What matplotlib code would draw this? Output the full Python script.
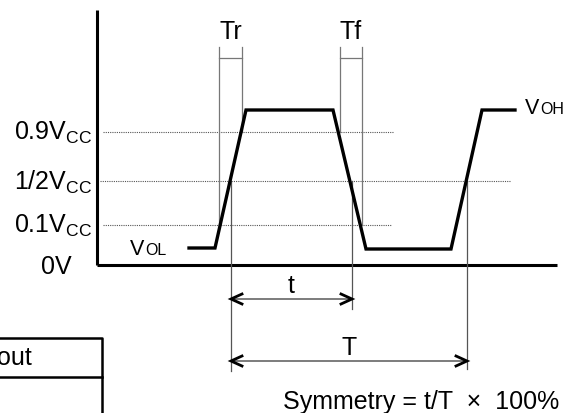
import matplotlib
matplotlib.use('Agg')
import matplotlib.pyplot as plt

plt.rcParams['font.family'] = ['Liberation Sans', 'DejaVu Sans']

# waveform corners (pixel coords of the 571x414 drawing)
wave_x = [189, 215, 246, 333, 366, 451, 482, 515]
wave_y = [249, 249, 111, 111, 250, 250, 111, 111]

# reference levels: label, y, x-start, x-end
level_names = ['0.9', '1/2', '0.1']
level_y = [133, 182, 226]
level_x0 = [103, 100, 103]
level_x1 = [393, 511, 391]

# Tr / Tf markers: left x, right x, bottom of left, bottom of right
edge_names = ['Tr', 'Tf']
edge_x = [(219, 242), (340, 362)]
edge_bottom = [(226, 133), (133, 226)]

# period markers
t_x = (231, 352)
T_x = (231, 467)

fig = plt.figure(figsize=(5.71, 4.14), dpi=100)
ax = fig.add_axes([0, 0, 1, 1])
ax.set_xlim(0, 571)
ax.set_ylim(414, 0)
ax.axis('off')

# axes
ax.plot([96.5, 96.5], [11, 266], color='black', lw=2.2, solid_capstyle='butt')
ax.plot([96.5, 557], [266, 266], color='black', lw=2.2, solid_capstyle='butt')

# dotted levels
for y, x0, x1 in zip(level_y, level_x0, level_x1):
    ax.plot([x0, x1], [y, y], color='#555555', lw=0.8, ls=(0, (1, 1)))

# level labels
for name, y in zip(level_names, level_y):
    ax.text(92, y, name + 'V$_{\\mathregular{CC}}$', ha='right', va='center', fontsize=18)
ax.text(56, 267, '0V', ha='center', va='center', fontsize=18)

# Tr / Tf brackets
for name, (xl, xr), (bl, br) in zip(edge_names, edge_x, edge_bottom):
    ax.plot([xl, xl], [48, bl], color='#777777', lw=0.9)
    ax.plot([xr, xr], [48, br], color='#777777', lw=0.9)
    ax.plot([xl, xr], [59, 59], color='#777777', lw=0.9)
    ax.text((xl + xr) / 2, 32, name, ha='center', va='center', fontsize=18)

# period verticals
ax.plot([t_x[0], t_x[0]], [182, 372], color='#555555', lw=0.9)
ax.plot([t_x[1], t_x[1]], [182, 310], color='#555555', lw=0.9)
ax.plot([T_x[1], T_x[1]], [182, 370], color='#555555', lw=0.9)

def dim_arrow(x0, x1, y, label, ly):
    ax.plot([x0, x1], [y, y], color='#666666', lw=1.2)
    for tip, d in ((x0, 1), (x1, -1)):
        ax.plot([tip + d * 11, tip, tip + d * 11], [y - 5, y, y + 5],
                color='black', lw=2.0, solid_joinstyle='miter')
    ax.text((x0 + x1) / 2, ly, label, ha='center', va='center', fontsize=18)

dim_arrow(t_x[0], t_x[1], 300, 't', 286)
dim_arrow(T_x[0], T_x[1], 362, 'T', 348)

# waveform
ax.plot(wave_x, wave_y, color='black', lw=2.4, solid_joinstyle='miter')

# V_OL / V_OH labels
ax.text(130, 255, 'V', ha='left', va='baseline', fontsize=15.5)
ax.text(145, 255, 'OL', ha='left', va='baseline', fontsize=11.5)
ax.text(525, 114, 'V', ha='left', va='baseline', fontsize=15.5)
ax.text(540, 114, 'OH', ha='left', va='baseline', fontsize=11.5)

# symmetry formula
ax.text(421, 402, 'Symmetry = t/T  \u00d7  100%', ha='center', va='center', fontsize=18)

# cut-off table at lower left
ax.plot([-5, 102, 102], [339, 339, 420], color='black', lw=1.8)
ax.plot([-5, 102], [378, 378], color='black', lw=1.8)
ax.text(-3, 358, 'out', ha='left', va='center', fontsize=18)

fig.savefig('out.png', dpi=100)
